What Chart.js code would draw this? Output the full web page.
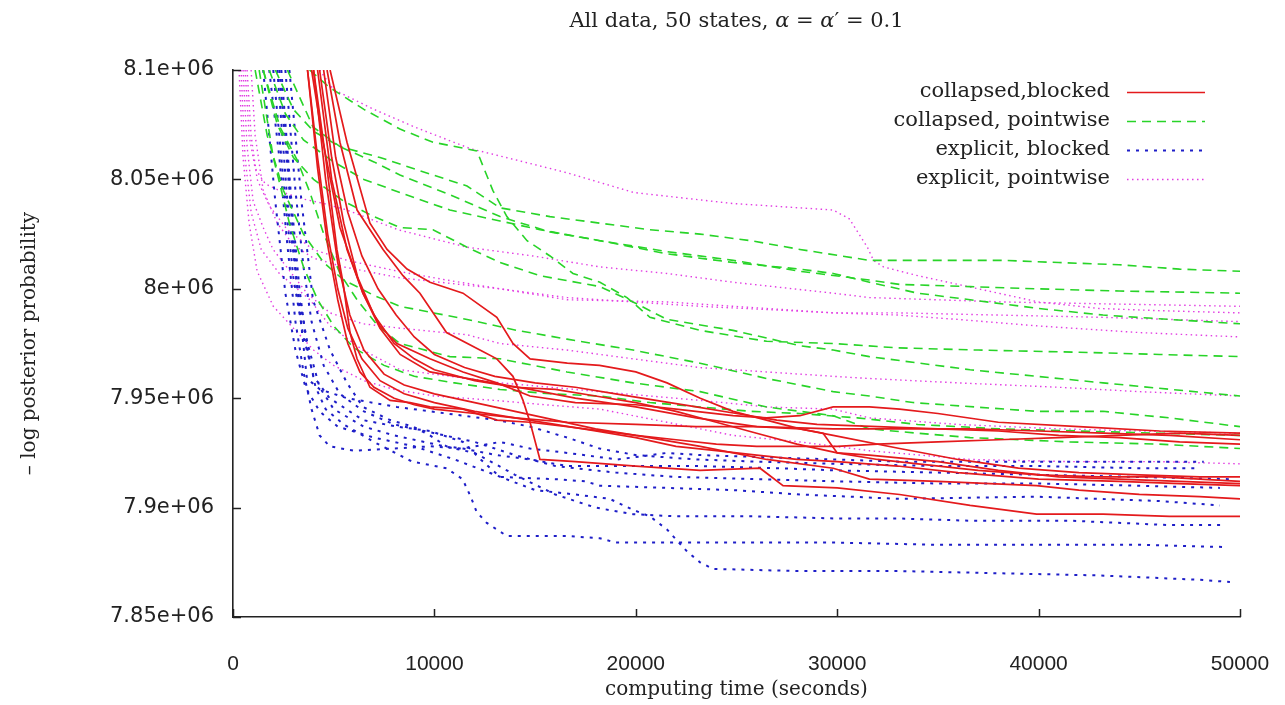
<!DOCTYPE html>
<html>
<head>
<meta charset="utf-8">
<title>All data, 50 states</title>
<script src="https://cdn.jsdelivr.net/npm/chart.js@4.4.1/dist/chart.umd.min.js"></script>
<style>
  html, body { margin: 0; padding: 0; background: #fff; }
  #wrap { width: 1285px; height: 705px; }
</style>
</head>
<body>
<div id="wrap"><canvas id="chart" width="1285" height="705"></canvas></div>
<script>
// categories (one per sampler)
const groupLabels = ['collapsed,blocked', 'collapsed, pointwise', 'explicit, blocked', 'explicit, pointwise'];

// tick labels
const xTickLabels = ['0', '10000', '20000', '30000', '40000', '50000'];
const yTickLabels = ['7.85e+06', '7.9e+06', '7.95e+06', '8e+06', '8.05e+06', '8.1e+06'];

// series: each run is a list of [seconds, -log posterior in thousands]
const redRuns = [
  [[4670,8100],[5310,8067],[6160,8036],[7450,8018],[8440,8006],[9280,7998],[10600,7980],[12260,7972],[13100,7968],[13900,7960],[14400,7949],[14750,7939],[15240,7922],[17000,7921],[20000,7919],[23190,7917],[26170,7918],[27310,7910],[30000,7909],[33100,7906],[36600,7901],[39900,7897],[43200,7897],[46500,7896],[50000,7896]],
  [[4000,8100],[4600,8060],[5160,8018],[5460,8003],[5810,7980],[6160,7968],[6800,7955],[7800,7949],[8790,7948],[9780,7946],[11420,7945],[13100,7940],[14750,7939],[16600,7937],[20000,7933],[23200,7928],[26500,7922],[29800,7918],[31600,7913],[35000,7912],[39900,7910],[42000,7908],[45000,7906],[48000,7905],[50000,7904]],
  [[4820,8100],[5660,8067],[6800,8030],[7650,8018],[8640,8009],[9780,8003],[11420,7998],[13100,7987],[13900,7975],[14750,7968],[16600,7966],[18200,7965],[20000,7962],[21550,7957],[23200,7950],[24830,7944],[28150,7936],[29800,7933],[33100,7927],[36000,7922],[39000,7918],[42000,7916],[45000,7915],[48000,7914],[50000,7914]],
  [[3900,8100],[4470,8067],[5310,8028],[6450,7998],[7300,7982],[8300,7970],[9780,7962],[12260,7958],[14750,7954],[17000,7950],[20000,7946],[23000,7941],[26000,7937],[28150,7936],[29300,7934],[30000,7925],[31600,7924],[35000,7921],[38000,7917],[41000,7914],[44000,7913],[47000,7912],[50000,7911]],
  [[4200,8100],[4900,8050],[5660,8018],[6450,7998],[7300,7983],[8140,7975],[9780,7968],[11420,7962],[13100,7957],[14750,7951],[17000,7948],[20000,7947],[22000,7945],[24830,7942],[26500,7941],[28150,7942],[29800,7946],[31600,7946],[33100,7945],[35000,7943],[38000,7939],[42000,7937],[46000,7935],[50000,7934]],
  [[3700,8100],[4200,8060],[4700,8025],[5200,8000],[5700,7982],[6400,7968],[7300,7958],[8500,7952],[10000,7948],[12000,7944],[14000,7941],[16600,7939],[20000,7938],[23000,7937],[26000,7937],[29800,7936],[33100,7936],[36600,7936],[40000,7935],[43200,7934],[46500,7933],[50000,7931]],
  [[4000,8100],[4600,8050],[5200,8012],[5800,7988],[6500,7972],[7500,7961],[8500,7956],[10000,7952],[12000,7948],[14000,7944],[16000,7940],[18000,7936],[20000,7933],[22000,7931],[24000,7929],[26000,7928],[28000,7928],[30000,7928],[32000,7929],[35000,7930],[38000,7931],[41000,7932],[44000,7933],[47000,7934],[50000,7933]],
  [[4300,8100],[4900,8060],[5500,8030],[6200,8005],[7000,7988],[8000,7975],[9000,7968],[10000,7963],[12000,7958],[14000,7955],[16000,7954],[18000,7951],[20000,7948],[22000,7944],[24000,7939],[26000,7934],[28000,7929],[30000,7925],[32000,7922],[34000,7920],[37000,7917],[40000,7915],[43000,7914],[46000,7914],[50000,7912]],
  [[3700,8100],[4200,8055],[4700,8020],[5200,7995],[5700,7975],[6300,7962],[7000,7955],[8000,7950],[9000,7947],[10000,7945],[12000,7943],[14000,7941],[16000,7938],[18000,7935],[20000,7932],[22000,7928],[24000,7926],[26000,7924],[28000,7922],[30000,7921],[33000,7919],[36000,7916],[40000,7913],[44000,7912],[47000,7911],[50000,7910]],
  [[4500,8100],[5100,8060],[5700,8035],[6400,8015],[7200,8000],[8100,7988],[9000,7978],[10000,7970],[11500,7964],[13000,7960],[15000,7957],[17000,7955],[19000,7952],[21000,7949],[23000,7946],[25000,7943],[27000,7940],[29000,7938],[32000,7937],[35000,7936],[38000,7935],[41000,7933],[44000,7932],[47000,7930],[50000,7929]]
];

const greenRuns = [
  [[2700,8100],[3970,8074],[5310,8065],[7300,8060],[8290,8057],[9930,8052],[11620,8047],[13260,8037],[15740,8033],[18220,8030],[20700,8027],[23190,8025],[25700,8022],[28150,8018],[31600,8013],[35000,8013],[38200,8013],[41000,8012],[44000,8011],[47000,8009],[50000,8008]],
  [[2100,8100],[3000,8082],[4000,8072],[5300,8065],[7000,8058],[8290,8052],[10770,8043],[13260,8033],[15740,8026],[18220,8022],[21550,8017],[24830,8013],[28150,8008],[31600,8004],[33100,8002],[36600,8001],[39900,8000],[44000,7999],[50000,7998]],
  [[1800,8100],[2600,8080],[3500,8068],[5000,8058],[6500,8050],[8290,8044],[10770,8036],[13260,8031],[15240,8027],[18220,8022],[21550,8016],[24830,8012],[28150,8009],[29800,8007],[31600,8003],[34000,7998],[36600,7995],[40000,7991],[43200,7988],[46500,7986],[50000,7984]],
  [[3800,8100],[4800,8092],[6500,8082],[8290,8073],[9930,8067],[12110,8063],[12900,8045],[13600,8033],[14600,8022],[15740,8015],[16880,8007],[18220,8003],[19560,7996],[20700,7987],[23190,7981],[26500,7976],[29800,7975],[33000,7973],[37000,7972],[42000,7971],[46000,7970],[50000,7969]],
  [[1500,8100],[2200,8075],[3000,8060],[4000,8050],[5500,8040],[7000,8033],[8290,8028],[9930,8027],[11620,8019],[13260,8012],[15240,8006],[18220,8001],[19860,7994],[21550,7986],[24830,7981],[28150,7974],[29800,7972],[31600,7969],[36600,7963],[43200,7957],[50000,7951]],
  [[1100,8100],[1700,8070],[2500,8045],[3500,8025],[4500,8012],[5500,8004],[7000,7997],[8290,7992],[11620,7986],[14100,7981],[16580,7977],[19860,7972],[23190,7966],[26500,7959],[29800,7953],[31600,7951],[33760,7948],[39900,7944],[43200,7944],[46500,7941],[50000,7937]],
  [[1500,8100],[2330,8074],[3180,8059],[3820,8044],[4470,8026],[5310,8007],[6160,7995],[7200,7983],[8290,7975],[10770,7969],[13260,7968],[16580,7962],[19860,7957],[23190,7953],[26500,7946],[29800,7942],[31600,7936],[34000,7934],[36600,7932],[41560,7930],[46000,7929],[50000,7927]],
  [[1300,8100],[2000,8060],[2800,8030],[3500,8010],[4200,7995],[5000,7983],[6000,7973],[7500,7965],[9000,7960],[11000,7957],[13260,7954],[15740,7952],[18220,7951],[20700,7948],[23190,7946],[25700,7944],[28150,7943],[31000,7941],[34000,7938],[38000,7936],[42000,7935],[46000,7934],[50000,7933]]
];

const blueRuns = [
  [[1800,8100],[2300,8060],[2700,8020],[3100,7985],[3500,7962],[3900,7945],[4300,7933],[4800,7928],[6000,7926],[8000,7927],[9800,7928],[11400,7927],[13260,7930],[14750,7927],[16600,7925],[19100,7922],[21550,7925],[23200,7924],[26500,7923],[29800,7922],[33100,7921],[38000,7921],[43000,7921],[48200,7921]],
  [[2800,8100],[3400,8040],[3970,7995],[4820,7972],[5660,7957],[6450,7946],[7800,7940],[8940,7937],[9780,7933],[10600,7928],[11420,7927],[13100,7924],[14750,7922],[16600,7919],[20000,7919],[23200,7919],[27000,7918],[30000,7917],[35000,7916],[40000,7915],[45000,7914],[49500,7913]],
  [[2400,8100],[2900,8040],[3300,8000],[3700,7972],[4100,7955],[4600,7945],[5500,7938],[7000,7930],[8900,7921],[10600,7918],[11400,7913],[11800,7905],[12100,7898],[12600,7893],[13600,7887],[16600,7887],[18220,7886],[19000,7884],[21500,7884],[25000,7884],[30000,7884],[35000,7883],[40000,7883],[45000,7883],[49200,7882]],
  [[2000,8100],[2600,8040],[3000,8005],[3500,7978],[4000,7960],[4800,7950],[6450,7940],[8140,7937],[9780,7935],[11420,7930],[12300,7922],[13260,7914],[16000,7913],[17500,7912],[18220,7910],[21550,7909],[24830,7908],[28150,7906],[33100,7904],[39900,7905],[46000,7903],[49000,7901]],
  [[1500,8100],[2100,8040],[2600,7998],[3100,7972],[3600,7955],[4300,7944],[5200,7937],[7000,7932],[9000,7928],[11000,7922],[13000,7915],[15000,7908],[17000,7906],[18700,7904],[19860,7899],[20700,7896],[21550,7890],[22540,7880],[23190,7875],[23830,7872],[28000,7871],[33100,7871],[38000,7870],[43000,7869],[48000,7867],[49500,7866]],
  [[2200,8100],[2700,8040],[3200,8000],[3700,7975],[4300,7955],[5000,7945],[6500,7937],[8000,7933],[10000,7929],[12000,7925],[14000,7915],[16000,7906],[18000,7900],[19860,7897],[22000,7896],[26000,7896],[30000,7895],[33100,7895],[36600,7894],[41600,7894],[46500,7892],[49200,7892]],
  [[2600,8100],[3100,8045],[3500,8010],[3900,7985],[4500,7965],[5300,7952],[6500,7944],[8000,7938],[10000,7934],[12000,7930],[14000,7924],[16000,7919],[19000,7916],[22000,7914],[26000,7913],[30000,7912],[35000,7911],[40000,7911],[45000,7910],[49000,7909]],
  [[2300,8100],[2800,8045],[3200,8000],[3670,7959],[4320,7954],[5660,7950],[8140,7946],[9780,7944],[13100,7940],[14750,7937],[16600,7932],[18200,7927],[20000,7924],[23000,7922],[26000,7921],[30000,7920],[35000,7919],[40000,7919],[45000,7918],[48000,7918]]
];

const magentaRuns = [
  [[4300,8100],[5000,8091],[7000,8082],[9000,8074],[11800,8064],[14000,8059],[16600,8053],[19900,8044],[24800,8039],[29800,8036],[30600,8032],[31500,8019],[31800,8013],[32300,8010],[34000,8006],[36000,8002],[38000,7998],[40000,7994],[43000,7991],[46000,7990],[50000,7989]],
  [[600,8100],[800,8070],[1100,8055],[1600,8048],[2500,8044],[3500,8041],[4500,8039],[5660,8036],[8200,8027],[11620,8019],[14900,8015],[18220,8010],[21550,8007],[24830,8003],[29800,7998],[31600,7996],[38200,7994],[44000,7993],[50000,7992]],
  [[700,8100],[900,8070],[1200,8050],[1800,8038],[2700,8027],[3970,8018],[5660,8013],[8200,8008],[10600,8004],[13260,8000],[16580,7996],[19860,7994],[23190,7992],[29800,7989],[33000,7989],[38000,7988],[43000,7987],[50000,7985]],
  [[900,8100],[1100,8070],[1500,8045],[2200,8030],[3000,8020],[4000,8014],[5500,8010],[8290,8005],[13260,8000],[16580,7995],[21550,7994],[26500,7991],[29800,7989],[33000,7988],[36000,7986],[40000,7983],[45000,7980],[50000,7978]],
  [[500,8100],[700,8065],[1000,8040],[1500,8028],[1990,8018],[3670,7998],[4820,7989],[6450,7984],[8290,7982],[11620,7979],[13260,7975],[16580,7972],[19860,7968],[23190,7964],[26500,7962],[29800,7960],[31600,7959],[36000,7957],[41000,7955],[45000,7953],[50000,7951]],
  [[400,8100],[600,8060],[900,8035],[1400,8018],[2300,8007],[3820,7995],[4820,7983],[6450,7972],[8300,7963],[13300,7957],[18200,7953],[23200,7949],[26500,7946],[29800,7945],[31600,7941],[36000,7938],[41000,7936],[45000,7935],[50000,7934]],
  [[300,8100],[500,8060],[800,8030],[1200,8008],[2000,7992],[3000,7982],[4000,7972],[5000,7965],[6500,7958],[8000,7954],[10000,7951],[13000,7949],[15500,7947],[18220,7945],[21550,7939],[24830,7933],[28150,7930],[31600,7926],[36600,7922],[41600,7921],[46000,7921],[50000,7920]]
];

// drawing styles per sampler
const groupStyles = [
  { runs: redRuns,     color: 'rgb(228,26,28)',  dash: [],         width: 1.7 },
  { runs: greenRuns,   color: 'rgb(40,212,40)',  dash: [9, 6],     width: 1.6 },
  { runs: blueRuns,    color: 'rgb(30,30,200)',  dash: [3, 6],     width: 2 },
  { runs: magentaRuns, color: 'rgb(226,60,226)', dash: [1.5, 3.5], width: 1.4 }
];

const datasets = [];
groupStyles.forEach((g, gi) => {
  g.runs.forEach((run, ri) => {
    datasets.push({
      label: groupLabels[gi] + ' ' + (ri + 1),
      data: run.map(p => ({ x: p[0], y: p[1] * 1000 })),
      borderColor: g.color,
      borderDash: g.dash,
      borderWidth: g.width,
      pointRadius: 0,
      fill: false,
      tension: 0
    });
  });
});

const serif = '"DejaVu Serif", "Liberation Serif", serif';

// title with italic alpha
const titlePlugin = {
  id: 'plotTitle',
  afterDraw(chart) {
    const ctx = chart.ctx;
    const parts = [
      { t: 'All data, 50 states, ', f: '21px ' + serif },
      { t: 'α', f: 'italic 21px ' + serif },
      { t: ' = ', f: '21px ' + serif },
      { t: 'α', f: 'italic 21px ' + serif },
      { t: '′ = 0.1', f: '21px ' + serif }
    ];
    ctx.save();
    let total = 0;
    parts.forEach(p => { ctx.font = p.f; total += ctx.measureText(p.t).width; });
    const area = chart.chartArea;
    let x = (area.left + area.right) / 2 - total / 2;
    ctx.fillStyle = '#222';
    ctx.textBaseline = 'middle';
    parts.forEach(p => {
      ctx.font = p.f;
      ctx.fillText(p.t, x, 22);
      x += ctx.measureText(p.t).width;
    });
    ctx.restore();
  }
};

// inward tick marks on both axes
const tickPlugin = {
  id: 'inTicks',
  afterDraw(chart) {
    const ctx = chart.ctx;
    const xs = chart.scales.x, ys = chart.scales.y;
    ctx.save();
    ctx.strokeStyle = '#222';
    ctx.lineWidth = 1.5;
    ctx.beginPath();
    ys.ticks.forEach(t => {
      const py = Math.round(ys.getPixelForValue(t.value)) + 0.5;
      ctx.moveTo(xs.left, py);
      ctx.lineTo(xs.left + 8, py);
    });
    xs.ticks.forEach(t => {
      const px = Math.round(xs.getPixelForValue(t.value)) + 0.5;
      ctx.moveTo(px, ys.bottom);
      ctx.lineTo(px, ys.bottom - 8);
    });
    ctx.stroke();
    ctx.restore();
  }
};

// key in the top right corner: text right aligned, sample line after it
const keyPlugin = {
  id: 'key',
  afterDraw(chart) {
    const ctx = chart.ctx;
    ctx.save();
    ctx.font = '21px ' + serif;
    ctx.textAlign = 'right';
    ctx.textBaseline = 'middle';
    groupLabels.forEach((label, i) => {
      const y = 92 + i * 29;
      const g = groupStyles[i];
      ctx.fillStyle = '#222';
      ctx.fillText(label, 1110, y);
      ctx.strokeStyle = g.color;
      ctx.lineWidth = g.width;
      ctx.setLineDash(g.dash);
      ctx.beginPath();
      ctx.moveTo(1127, y + 0.5);
      ctx.lineTo(1205, y + 0.5);
      ctx.stroke();
    });
    ctx.restore();
  }
};

new Chart(document.getElementById('chart'), {
  type: 'line',
  data: { datasets: datasets },
  options: {
    responsive: false,
    animation: false,
    events: [],
    devicePixelRatio: 1,
    layout: { padding: { top: 70, right: 45, left: 0, bottom: 0 } },
    plugins: {
      legend: { display: false },
      tooltip: { enabled: false },
      title: { display: false }
    },
    scales: {
      x: {
        type: 'linear',
        min: 0,
        max: 50000,
        grid: { display: false },
        border: { display: true, color: '#222', width: 1.6 },
        ticks: {
          stepSize: 10000,
          maxRotation: 0,
          padding: 27,
          color: '#222',
          font: { family: '"Liberation Sans", Arial, sans-serif', size: 21 },
          callback: (v, i) => xTickLabels[i]
        },
        title: {
          display: true,
          text: 'computing time (seconds)',
          color: '#222',
          font: { family: serif, size: 20 },
          padding: { top: 0, bottom: 3 }
        },
        afterFit: s => { s.height = 88; s.paddingLeft = 0; s.paddingRight = 0; }
      },
      y: {
        type: 'linear',
        min: 7850000,
        max: 8100000,
        grid: { display: false },
        border: { display: true, color: '#222', width: 1.6 },
        ticks: {
          stepSize: 50000,
          padding: 11,
          color: '#222',
          font: { family: '"DejaVu Sans", sans-serif', size: 21 },
          callback: (v, i) => yTickLabels[i]
        },
        title: {
          display: true,
          text: '– log posterior probability',
          color: '#222',
          font: { family: serif, size: 20 },
          padding: { top: 18, bottom: 0 }
        },
        afterFit: s => { s.width = 233; }
      }
    }
  },
  plugins: [titlePlugin, tickPlugin, keyPlugin]
});
</script>
</body>
</html>
